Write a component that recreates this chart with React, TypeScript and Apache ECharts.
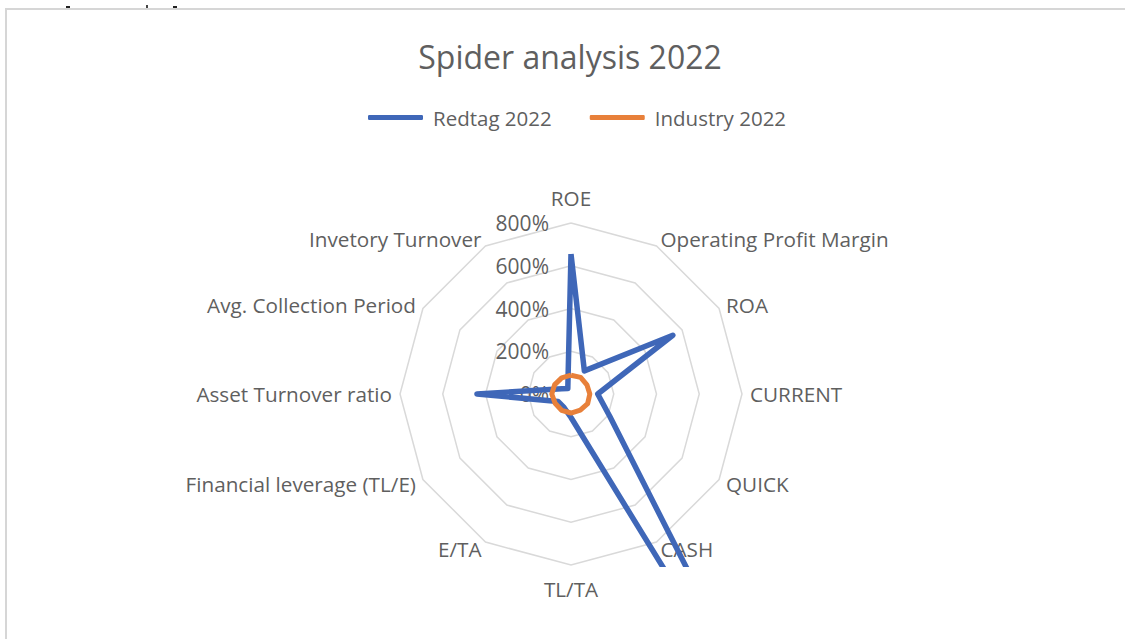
import React, { useEffect, useRef } from 'react';
import * as echarts from 'echarts';

// Indicators in the reference's clockwise order, starting at the top
const indicators = [
  'ROE',
  'Operating Profit Margin',
  'ROA',
  'CURRENT',
  'QUICK',
  'CASH',
  'TL/TA',
  'E/TA',
  'Financial leverage (TL/E)',
  'Asset Turnover ratio',
  'Avg. Collection Period',
  'Invetory Turnover',
];
// values in %
const redtag2022 = [655, 125, 550, 125, 210, 2100, 110, 70, 70, 440, 50, 30];
const industry2022 = [88, 90, 86, 88, 90, 87, 89, 88, 86, 90, 88, 87];
const axisMax = 800;
const axisSplits = 4;
const seriesNames = ['Redtag 2022', 'Industry 2022'];

const TEXT = '#5f5f5f';
const FONT = 'Open Sans';

// ECharts radar runs counter-clockwise; reorder so that it reads clockwise
const cw = <T,>(arr: T[]): T[] => [arr[0], ...arr.slice(1).reverse()];

export default function App() {
  const ref = useRef<HTMLDivElement>(null);
  useEffect(() => {
    if (!ref.current) return;
    const chart = echarts.init(ref.current, undefined, { renderer: 'svg' });
    const ordered = cw(indicators);
    const ind = ordered.map((name, i) => {
      const o: any = { name, max: axisMax, min: 0 };
      if (i === 0) {
        o.axisLabel = {
          show: true,
          formatter: '{value}%',
          color: TEXT,
          fontFamily: FONT,
          fontSize: 21,
          margin: 22,
        };
        o.nameTextStyle = { padding: [0, 0, 7, 0] };
      }
      if (name === 'TL/TA') o.nameTextStyle = { padding: [5, 0, 0, 0] };
      return o;
    });
    chart.setOption({
      animation: false,
      backgroundColor: '#ffffff',
      title: {
        text: 'Spider analysis 2022',
        left: 565,
        textAlign: 'center',
        top: 35,
        textStyle: { color: TEXT, fontFamily: FONT, fontSize: 32, fontWeight: 'normal' },
      },
      legend: {
        left: 363,
        top: 102,
        itemWidth: 55,
        itemHeight: 5,
        itemGap: 38,
        icon: 'roundRect',
        textStyle: { color: TEXT, fontFamily: FONT, fontSize: 20.5, padding: [0, 0, 0, 5] },
        data: seriesNames,
      },
      radar: {
        center: [571, 394],
        radius: 171,
        startAngle: 90,
        shape: 'polygon',
        splitNumber: axisSplits,
        nameGap: 8,
        axisName: { color: TEXT, fontFamily: FONT, fontSize: 20.7 },
        axisLine: { show: false },
        axisTick: { show: false },
        axisLabel: { show: false },
        splitLine: { lineStyle: { color: '#d9d9d9', width: 1.5 } },
        splitArea: { show: false },
        indicator: ind,
      },
      graphic: [
        {
          type: 'rect',
          z: -10,
          shape: { x: 6, y: 9, width: 1200, height: 700 },
          style: { fill: 'none', stroke: '#d6d6d6', lineWidth: 2 },
        },
        // plot-area clip below the chart area
        {
          type: 'rect',
          z: 100,
          shape: { x: 600, y: 567, width: 260, height: 80 },
          style: { fill: '#ffffff' },
        },
        { type: 'rect', shape: { x: 66, y: 6, width: 4, height: 2 }, style: { fill: '#222' } },
        { type: 'rect', shape: { x: 173, y: 6, width: 4, height: 2 }, style: { fill: '#222' } },
        { type: 'rect', shape: { x: 146, y: 5, width: 2, height: 3 }, style: { fill: '#444' } },
      ],
      series: [
        {
          type: 'radar',
          name: seriesNames[0],
          symbol: 'none',
          lineStyle: { color: '#3f67b8', width: 5.5, join: 'round' },
          itemStyle: { color: '#3f67b8' },
          data: [{ name: seriesNames[0], value: cw(redtag2022) }],
        },
        {
          type: 'radar',
          name: seriesNames[1],
          symbol: 'none',
          lineStyle: { color: '#e8803a', width: 5, join: 'round' },
          itemStyle: { color: '#e8803a' },
          data: [{ name: seriesNames[1], value: cw(industry2022) }],
        },
      ],
    });
    return () => chart.dispose();
  }, []);
  return (
    <div
      ref={ref}
      style={{ position: 'fixed', left: 0, top: 0, width: 1125, height: 639 }}
    />
  );
}
